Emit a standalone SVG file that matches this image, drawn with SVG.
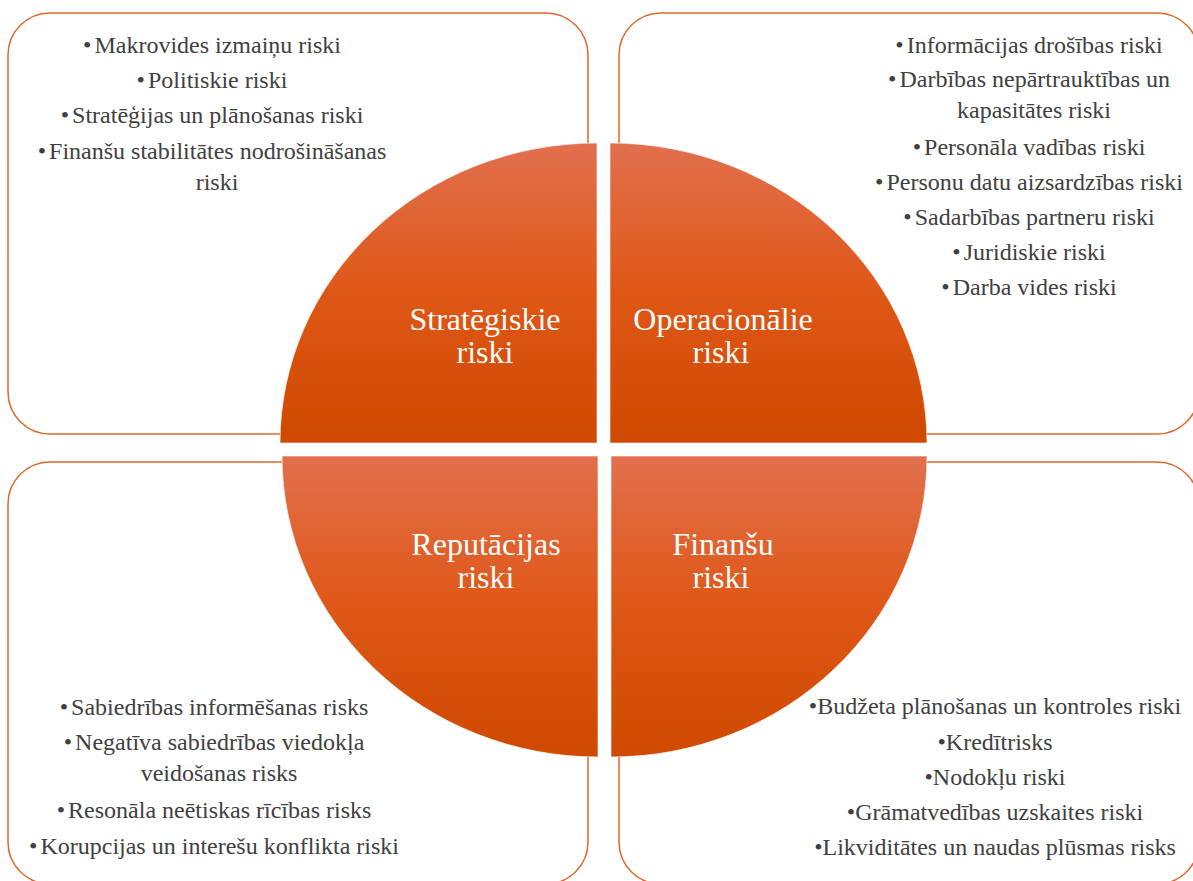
<svg xmlns="http://www.w3.org/2000/svg" width="1193" height="881" viewBox="0 0 1193 881">
  <defs>
    <linearGradient id="pieGrad" x1="0" y1="0" x2="0" y2="1">
      <stop offset="0" stop-color="#E1704E"/>
      <stop offset="0.5" stop-color="#DF5716"/>
      <stop offset="1" stop-color="#CF4900"/>
    </linearGradient>
    <style>
      .box { fill: #FFFFFF; stroke: #E2662A; stroke-width: 1.5; }
      .pie { fill: url(#pieGrad); stroke: #FFFFFF; stroke-opacity: 0.6; stroke-width: 1; }
      .item { font-size: 24px; fill: #404040; text-anchor: middle; }
      .label { font-size: 32px; fill: #FFFFFF; text-anchor: middle; }
    </style>
  </defs>

  <g font-family="Liberation Serif, DejaVu Serif, serif">
  <g id="box-strategic">
    <rect class="box" x="8" y="13" width="580" height="421" rx="42" ry="42"/>
    <text class="item" x="212" y="53">•<tspan dx="3">Makrovides izmaiņu riski</tspan></text>
    <text class="item" x="212" y="88">•<tspan dx="3">Politiskie riski</tspan></text>
    <text class="item" x="212" y="123">•<tspan dx="3">Stratēģijas un plānošanas riski</tspan></text>
    <text class="item" x="212" y="159">•<tspan dx="3">Finanšu stabilitātes nodrošināšanas</tspan></text>
    <text class="item" x="217" y="190">riski</text>
  </g>

  <g id="box-operational">
    <rect class="box" x="619" y="13" width="580" height="421" rx="42" ry="42"/>
    <text class="item" x="1029" y="53">•<tspan dx="3">Informācijas drošības riski</tspan></text>
    <text class="item" x="1029" y="87">•<tspan dx="3">Darbības nepārtrauktības un</tspan></text>
    <text class="item" x="1034" y="118">kapasitātes riski</text>
    <text class="item" x="1029" y="155">•<tspan dx="3">Personāla vadības riski</tspan></text>
    <text class="item" x="1029" y="190">•<tspan dx="3">Personu datu aizsardzības riski</tspan></text>
    <text class="item" x="1029" y="225">•<tspan dx="3">Sadarbības partneru riski</tspan></text>
    <text class="item" x="1029" y="260">•<tspan dx="3">Juridiskie riski</tspan></text>
    <text class="item" x="1029" y="295">•<tspan dx="3">Darba vides riski</tspan></text>
  </g>

  <g id="box-reputation">
    <rect class="box" x="8" y="462" width="580" height="422" rx="42" ry="42"/>
    <text class="item" x="214" y="715">•<tspan dx="3">Sabiedrības informēšanas risks</tspan></text>
    <text class="item" x="214" y="750">•<tspan dx="3">Negatīva sabiedrības viedokļa</tspan></text>
    <text class="item" x="219" y="781">veidošanas risks</text>
    <text class="item" x="214" y="818">•<tspan dx="3">Resonāla neētiskas rīcības risks</tspan></text>
    <text class="item" x="214" y="854">•<tspan dx="3">Korupcijas un interešu konflikta riski</tspan></text>
  </g>

  <g id="box-financial">
    <rect class="box" x="619" y="462" width="580" height="422" rx="42" ry="42"/>
    <text class="item" x="995" y="714">•Budžeta plānošanas un kontroles riski</text>
    <text class="item" x="995" y="749.5">•Kredītrisks</text>
    <text class="item" x="995" y="785">•Nodokļu riski</text>
    <text class="item" x="995" y="820">•Grāmatvedības uzskaites riski</text>
    <text class="item" x="995" y="855">•Likviditātes un naudas plūsmas risks</text>
  </g>

  <g id="pie-strategic">
    <path class="pie" d="M597,443 L280,443 A317,300 0 0 1 597,143 Z"/>
    <text class="label"><tspan x="485" y="330">Stratēgiskie</tspan><tspan x="485" y="363">riski</tspan></text>
  </g>

  <g id="pie-operational">
    <path class="pie" d="M610,443 L610,143 A317,300 0 0 1 927,443 Z"/>
    <text class="label"><tspan x="723" y="330">Operacionālie</tspan><tspan x="721" y="363">riski</tspan></text>
  </g>

  <g id="pie-reputation">
    <path class="pie" d="M598,456 L598,757 A316,301 0 0 1 282,456 Z"/>
    <text class="label"><tspan x="486" y="555">Reputācijas</tspan><tspan x="486" y="588">riski</tspan></text>
  </g>

  <g id="pie-financial">
    <path class="pie" d="M611,456 L927,456 A316,301 0 0 1 611,757 Z"/>
    <text class="label"><tspan x="723" y="555">Finanšu</tspan><tspan x="721" y="588">riski</tspan></text>
  </g>
  </g>

  <g id="connectors"></g>
</svg>
